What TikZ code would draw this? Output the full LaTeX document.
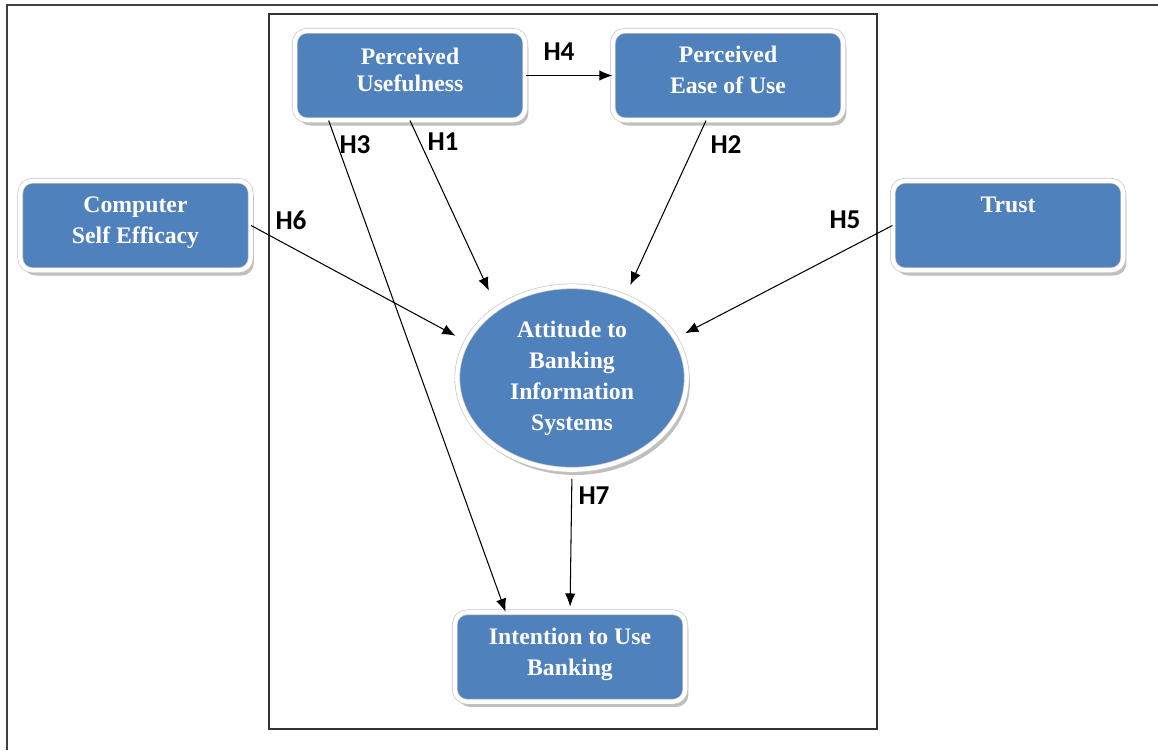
\documentclass[tikz,border=0pt]{standalone}
\usepackage{fontspec}
\setmainfont{Liberation Serif}
\newfontfamily\hypfont{Carlito}
\usetikzlibrary{arrows.meta, shapes.geometric, shadows}
\definecolor{tambox}{RGB}{79,129,189}

\begin{document}
\begin{tikzpicture}[x=0.02cm, y=-0.02cm,
    construct/.style={draw=black!22, double=white, double distance=2.4pt, fill=tambox,
        text=white, align=center, inner sep=0pt,
        font=\fontsize{13.5}{17.6}\selectfont\bfseries,
        drop shadow={shadow xshift=1.8pt, shadow yshift=-3pt, fill=black!50}},
    boxnode/.style={construct, rounded corners=7pt, minimum width=4.61cm, minimum height=1.79cm, text depth=6pt},
    hyp/.style={-{Latex[length=7.5pt,width=6pt]}, line width=0.6pt},
    hlabel/.style={font=\hypfont\bfseries\fontsize{15.5}{18}\selectfont}]
    \useasboundingbox (0,0) rectangle (1158,750);
    % frames
    \draw[line width=1.3pt, black!75] (7,750) |- (1158,5);
    \draw[line width=0.8pt, black!80] (269,14) rectangle (877,729);
    % constructs
    \node[boxnode, font=\fontsize{13.5}{15.4}\selectfont\bfseries] (pu) at (410,75.5) {Perceived\\Usefulness};
    \node[boxnode] (peou) at (728,75.5) {Perceived\\Ease of Use};
    \node[boxnode] (cse) at (135.5,225.5) {Computer\\Self Efficacy};
    \node[boxnode] (trust) at (1008,225.5) {Trust\\~};
    \node[boxnode] (itu) at (570,657) {Intention to Use\\Banking};
    \node[construct, ellipse, minimum width=4.59cm, minimum height=3.67cm] (att) at (572,378)
        {Attitude to\\Banking\\Information\\Systems};
    % hypotheses
    \draw[hyp] (pu.east) -- (peou.west);
    \draw[hyp, shorten >=11pt] (pu.south) -- (att.137);
    \draw[hyp, shorten >=7pt] (peou.244) -- (att.57);
    \draw[hyp] (pu.209) -- (itu.145);
    \draw[hyp, shorten >=7pt] (cse.east) -- (att.161);
    \draw[hyp, shorten >=6pt] (trust.west) -- (att.21);
    \draw[hyp, shorten <=5pt, shorten >=3pt] (att.south) -- (itu.north);
    \node[hlabel] (h4) at (559,52) {H4};
    \node[hlabel] (h1) at (443,142) {H1};
    \node[hlabel] (h3) at (355,145) {H3};
    \node[hlabel] (h2) at (726,145) {H2};
    \node[hlabel] (h6) at (291,220) {H6};
    \node[hlabel] (h5) at (845,220) {H5};
    \node[hlabel] (h7) at (594,496) {H7};
\end{tikzpicture}
\end{document}
